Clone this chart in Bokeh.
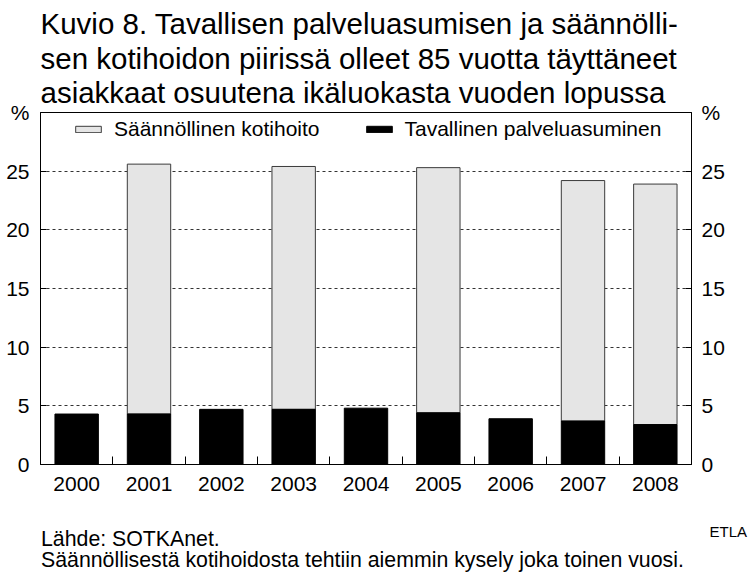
from bokeh.plotting import figure
from bokeh.layouts import column
from bokeh.models import (Range1d, LinearAxis, FixedTicker, Label, Legend,
                          LegendItem, ColumnDataSource)
from bokeh.embed import file_html
from bokeh.resources import INLINE

# ---- data ----
years = [2000, 2001, 2002, 2003, 2004, 2005, 2006, 2007, 2008]
palveluasuminen = [4.3, 4.3, 4.7, 4.7, 4.8, 4.4, 3.9, 3.7, 3.4]
kotihoito = [None, 21.3, None, 20.7, None, 20.9, None, 20.5, 20.5]
y_ticks = [0, 5, 10, 15, 20, 25]
unit_tick = 30          # top of the value axis carries the unit label
unit_label = "%"

title_lines = ["Kuvio 8. Tavallisen palveluasumisen ja säännölli-",
               "sen kotihoidon piirissä olleet 85 vuotta täyttäneet",
               "asiakkaat osuutena ikäluokasta vuoden lopussa"]
legend_labels = ["Säännöllinen kotihoito", "Tavallinen palveluasuminen"]
source_note = "Lähde: SOTKAnet."
extra_note = "Säännöllisestä kotihoidosta tehtiin aiemmin kysely joka toinen vuosi."
brand = "ETLA"

FONT = "Liberation Sans"

src_p = ColumnDataSource(dict(x=years, top=palveluasuminen))
kx = [y for y, k in zip(years, kotihoito) if k is not None]
kb = [pv for pv, k in zip(palveluasuminen, kotihoito) if k is not None]
kt = [pv + k for pv, k in zip(palveluasuminen, kotihoito) if k is not None]
src_k = ColumnDataSource(dict(x=kx, bottom=kb, top=kt))

p = figure(width=756, height=500, x_range=Range1d(1999.5, 2008.5),
           y_range=Range1d(0, 30), output_backend="svg",
           toolbar_location=None, min_border_left=40, min_border_right=65,
           min_border_top=112, min_border_bottom=36)
p.frame_align = False
p.background_fill_color = "white"
p.border_fill_color = "white"
p.outline_line_color = "black"
p.outline_line_width = 1

# title
p.title.text = "\n".join(title_lines)
p.title.align = "left"
p.title.text_font = FONT
p.title.text_font_size = "29.5px"
p.title.text_font_style = "normal"
p.title.text_color = "black"
p.title.text_line_height = 1.06
p.title.vertical_align = "bottom"
p.title.standoff = 6
p.title.offset = 0

r_k = p.vbar(x="x", bottom="bottom", top="top", width=0.6, source=src_k,
             fill_color="#e5e5e5", line_color="#3a3a3a", line_width=1)
r_p = p.vbar(x="x", bottom=0, top="top", width=0.6, source=src_p,
             fill_color="black", line_color="black", line_width=1)

# grid
p.xgrid.visible = False
p.ygrid.ticker = FixedTicker(ticks=y_ticks)
p.ygrid.grid_line_color = "#333333"
p.ygrid.grid_line_dash = "3 3"
p.ygrid.grid_line_width = 1

# x axis
xa = p.xaxis[0]
xa.ticker = FixedTicker(ticks=years, minor_ticks=[y + 0.5 for y in years[:-1]])
xa.major_tick_in = 0
xa.major_tick_out = 0
xa.minor_tick_in = 8
xa.minor_tick_out = 0
xa.minor_tick_line_color = "black"
xa.axis_line_color = "black"
xa.major_label_text_font = FONT
xa.major_label_text_font_size = "21px"
xa.major_label_text_color = "black"
xa.major_label_standoff = 12

# y axes (left and right)
ra = LinearAxis()
p.add_layout(ra, "right")
for ax, so in ((p.yaxis[0], 11), (ra, 10)):
    ax.ticker = FixedTicker(ticks=y_ticks + [unit_tick])
    ax.major_label_overrides = {unit_tick: unit_label}
    ax.major_tick_in = 6
    ax.major_tick_out = 0
    ax.minor_tick_in = 0
    ax.minor_tick_out = 0
    ax.major_tick_line_color = "black"
    ax.axis_line_color = "black"
    ax.major_label_text_font = FONT
    ax.major_label_text_font_size = "21px"
    ax.major_label_text_color = "black"
    ax.major_label_standoff = so

# legend
leg = Legend(items=[LegendItem(label=legend_labels[0], renderers=[r_k]),
                    LegendItem(label=legend_labels[1], renderers=[r_p])],
             orientation="horizontal", location=(32, 323))
leg.glyph_width = 32
leg.glyph_height = 8
leg.label_standoff = 10
leg.spacing = 43
leg.padding = 0
leg.margin = 0
leg.border_line_alpha = 0
leg.background_fill_alpha = 0
leg.label_text_font = FONT
leg.label_text_font_size = "21px"
leg.label_text_color = "black"
p.add_layout(leg)

# footer panel
f = figure(width=756, height=72, x_range=Range1d(0, 756),
           y_range=Range1d(572, 500), x_axis_type=None, y_axis_type=None,
           toolbar_location=None, output_backend="svg", min_border=0)
f.frame_align = False
f.outline_line_color = None
f.background_fill_color = "white"
f.border_fill_color = "white"

def note(x, y, text, size, align="left"):
    f.add_layout(Label(x=x, y=y, text=text, text_font=FONT,
                       text_font_size=size, text_color="black",
                       text_align=align, text_baseline="alphabetic"))

note(40.5, 538, source_note, "21.3px")
note(40.5, 559.5, extra_note, "21.3px")
note(746.5, 531, brand, "15px", "right")

layout = column(p, f, spacing=0)
open("out.html", "w").write(file_html(layout, INLINE))
